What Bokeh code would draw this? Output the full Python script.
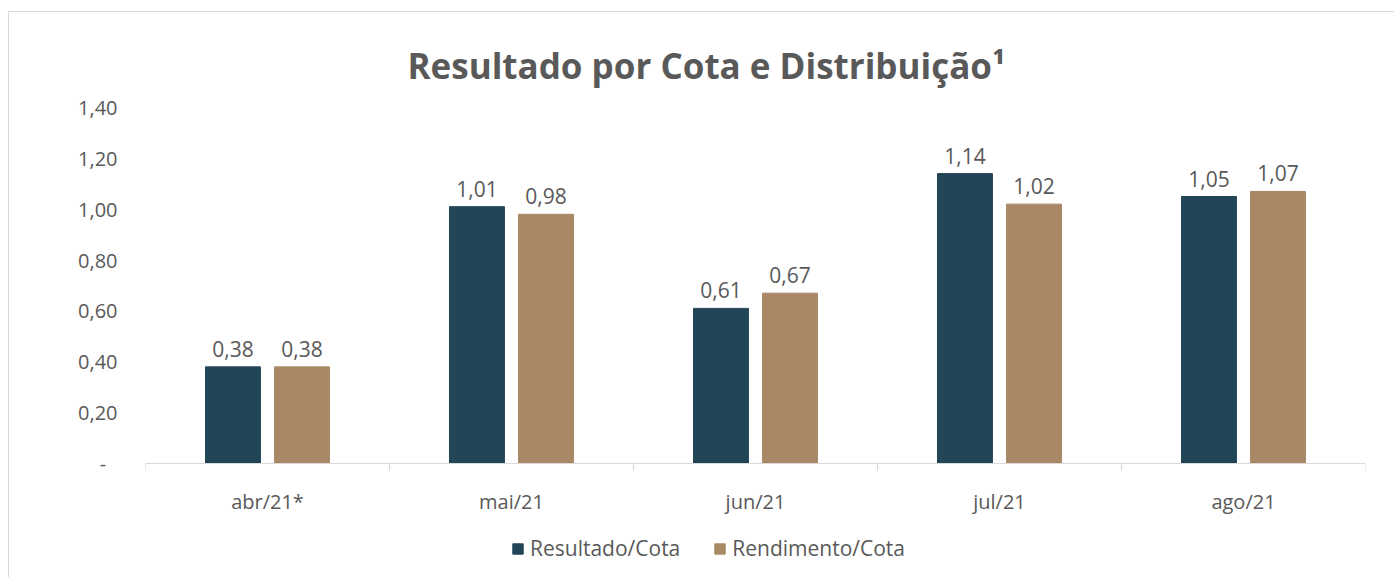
import math
from bokeh.plotting import figure
from bokeh.models import ColumnDataSource, FixedTicker, Legend, LegendItem, Range1d
from bokeh.core.properties import value
from bokeh.embed import file_html
from bokeh.resources import INLINE

categories = ["abr/21*", "mai/21", "jun/21", "jul/21", "ago/21"]
resultado = [0.38, 1.01, 0.61, 1.14, 1.05]
rendimento = [0.38, 0.98, 0.67, 1.02, 1.07]
y_ticks = [0.0, 0.2, 0.4, 0.6, 0.8, 1.0, 1.2, 1.4]
series_names = ["Resultado/Cota", "Rendimento/Cota"]
colors = ["#234558", "#A98865"]

FONT = "Open Sans"
GRAY = "#595959"
AXIS_GRAY = "#D9D9D9"

def fmt(v):
    return f"{v:.2f}".replace(".", ",")

n = len(categories)
centers = [i + 0.5 for i in range(n)]
bounds = [float(i) for i in range(n + 1)]

# layout (figure pixels)
W, H = 1386, 566
frame_top, zero_px = 95, 451
ymax = y_ticks[-1]
px_per_unit = (zero_px - frame_top) / ymax
ymin = -(H - zero_px) / px_per_unit

p = figure(width=W, height=H, output_backend="svg", toolbar_location=None,
           x_range=Range1d(0, n), y_range=Range1d(ymin, ymax),
           min_border_left=136, min_border_right=30, min_border_top=frame_top, min_border_bottom=0)
p.styles = {"margin-left": "8px", "margin-top": "11px",
            "border-left": "1px solid #D9D9D9", "border-top": "1px solid #D9D9D9"}
p.outline_line_color = None
p.background_fill_color = "white"
p.border_fill_color = "white"
p.grid.grid_line_color = None
p.xaxis.visible = False

p.title.text = "Resultado por Cota e Distribuição¹"
p.title.text_font = FONT
p.title.text_font_size = "35px"
p.title.text_font_style = "bold"
p.title.text_color = GRAY
p.title.align = "left"
p.title.offset = 262
p.title.standoff = 38

off = 0.1415
w = 0.225
renderers = []
for k, (vals, col) in enumerate(zip([resultado, rendimento], colors)):
    xs = [c + (-off if k == 0 else off) for c in centers]
    src = ColumnDataSource(dict(x=xs, top=vals, label=[fmt(v) for v in vals]))
    r = p.vbar(x="x", top="top", width=w, bottom=0, color=col, source=src)
    renderers.append(r)
    p.text(x="x", y="top", text="label", source=src, text_align="center",
           text_baseline="alphabetic", y_offset=-18, text_font=value(FONT),
           text_font_size="21px", text_color=GRAY)

# x axis drawn with glyphs (line, boundary ticks, category labels)
p.segment(x0=[bounds[0]], y0=[0], x1=[bounds[-1]], y1=[0], line_color=AXIS_GRAY, line_width=1.2)
p.ray(x=bounds, y=[0] * len(bounds), length=7, length_units="screen",
      angle=-math.pi / 2, line_color=AXIS_GRAY, line_width=1.2)
p.text(x=centers, y=[0] * n, text=categories, text_align="center", text_baseline="alphabetic",
       y_offset=38, text_font=value(FONT), text_font_size="20px", text_color=GRAY)

# y axis
p.yaxis.ticker = FixedTicker(ticks=y_ticks)
p.yaxis.major_label_overrides = {t: (fmt(t) if t != 0 else "-\u2007") for t in y_ticks}
p.yaxis.axis_line_color = None
p.yaxis.major_tick_line_color = None
p.yaxis.minor_tick_line_color = None
p.yaxis.major_label_text_font = FONT
p.yaxis.major_label_text_font_size = "20px"
p.yaxis.major_label_text_color = GRAY
p.yaxis.major_label_standoff = 22

legend = Legend(items=[LegendItem(label=s, renderers=[r]) for s, r in zip(series_names, renderers)],
                orientation="horizontal", location=(366, 16))
legend.label_text_font = FONT
legend.label_text_font_size = "21px"
legend.label_text_color = GRAY
legend.glyph_width = 13
legend.glyph_height = 13
legend.spacing = 33
legend.label_standoff = 6
legend.border_line_color = None
legend.background_fill_alpha = 0
p.add_layout(legend)

open("out.html", "w").write(file_html(p, INLINE))
